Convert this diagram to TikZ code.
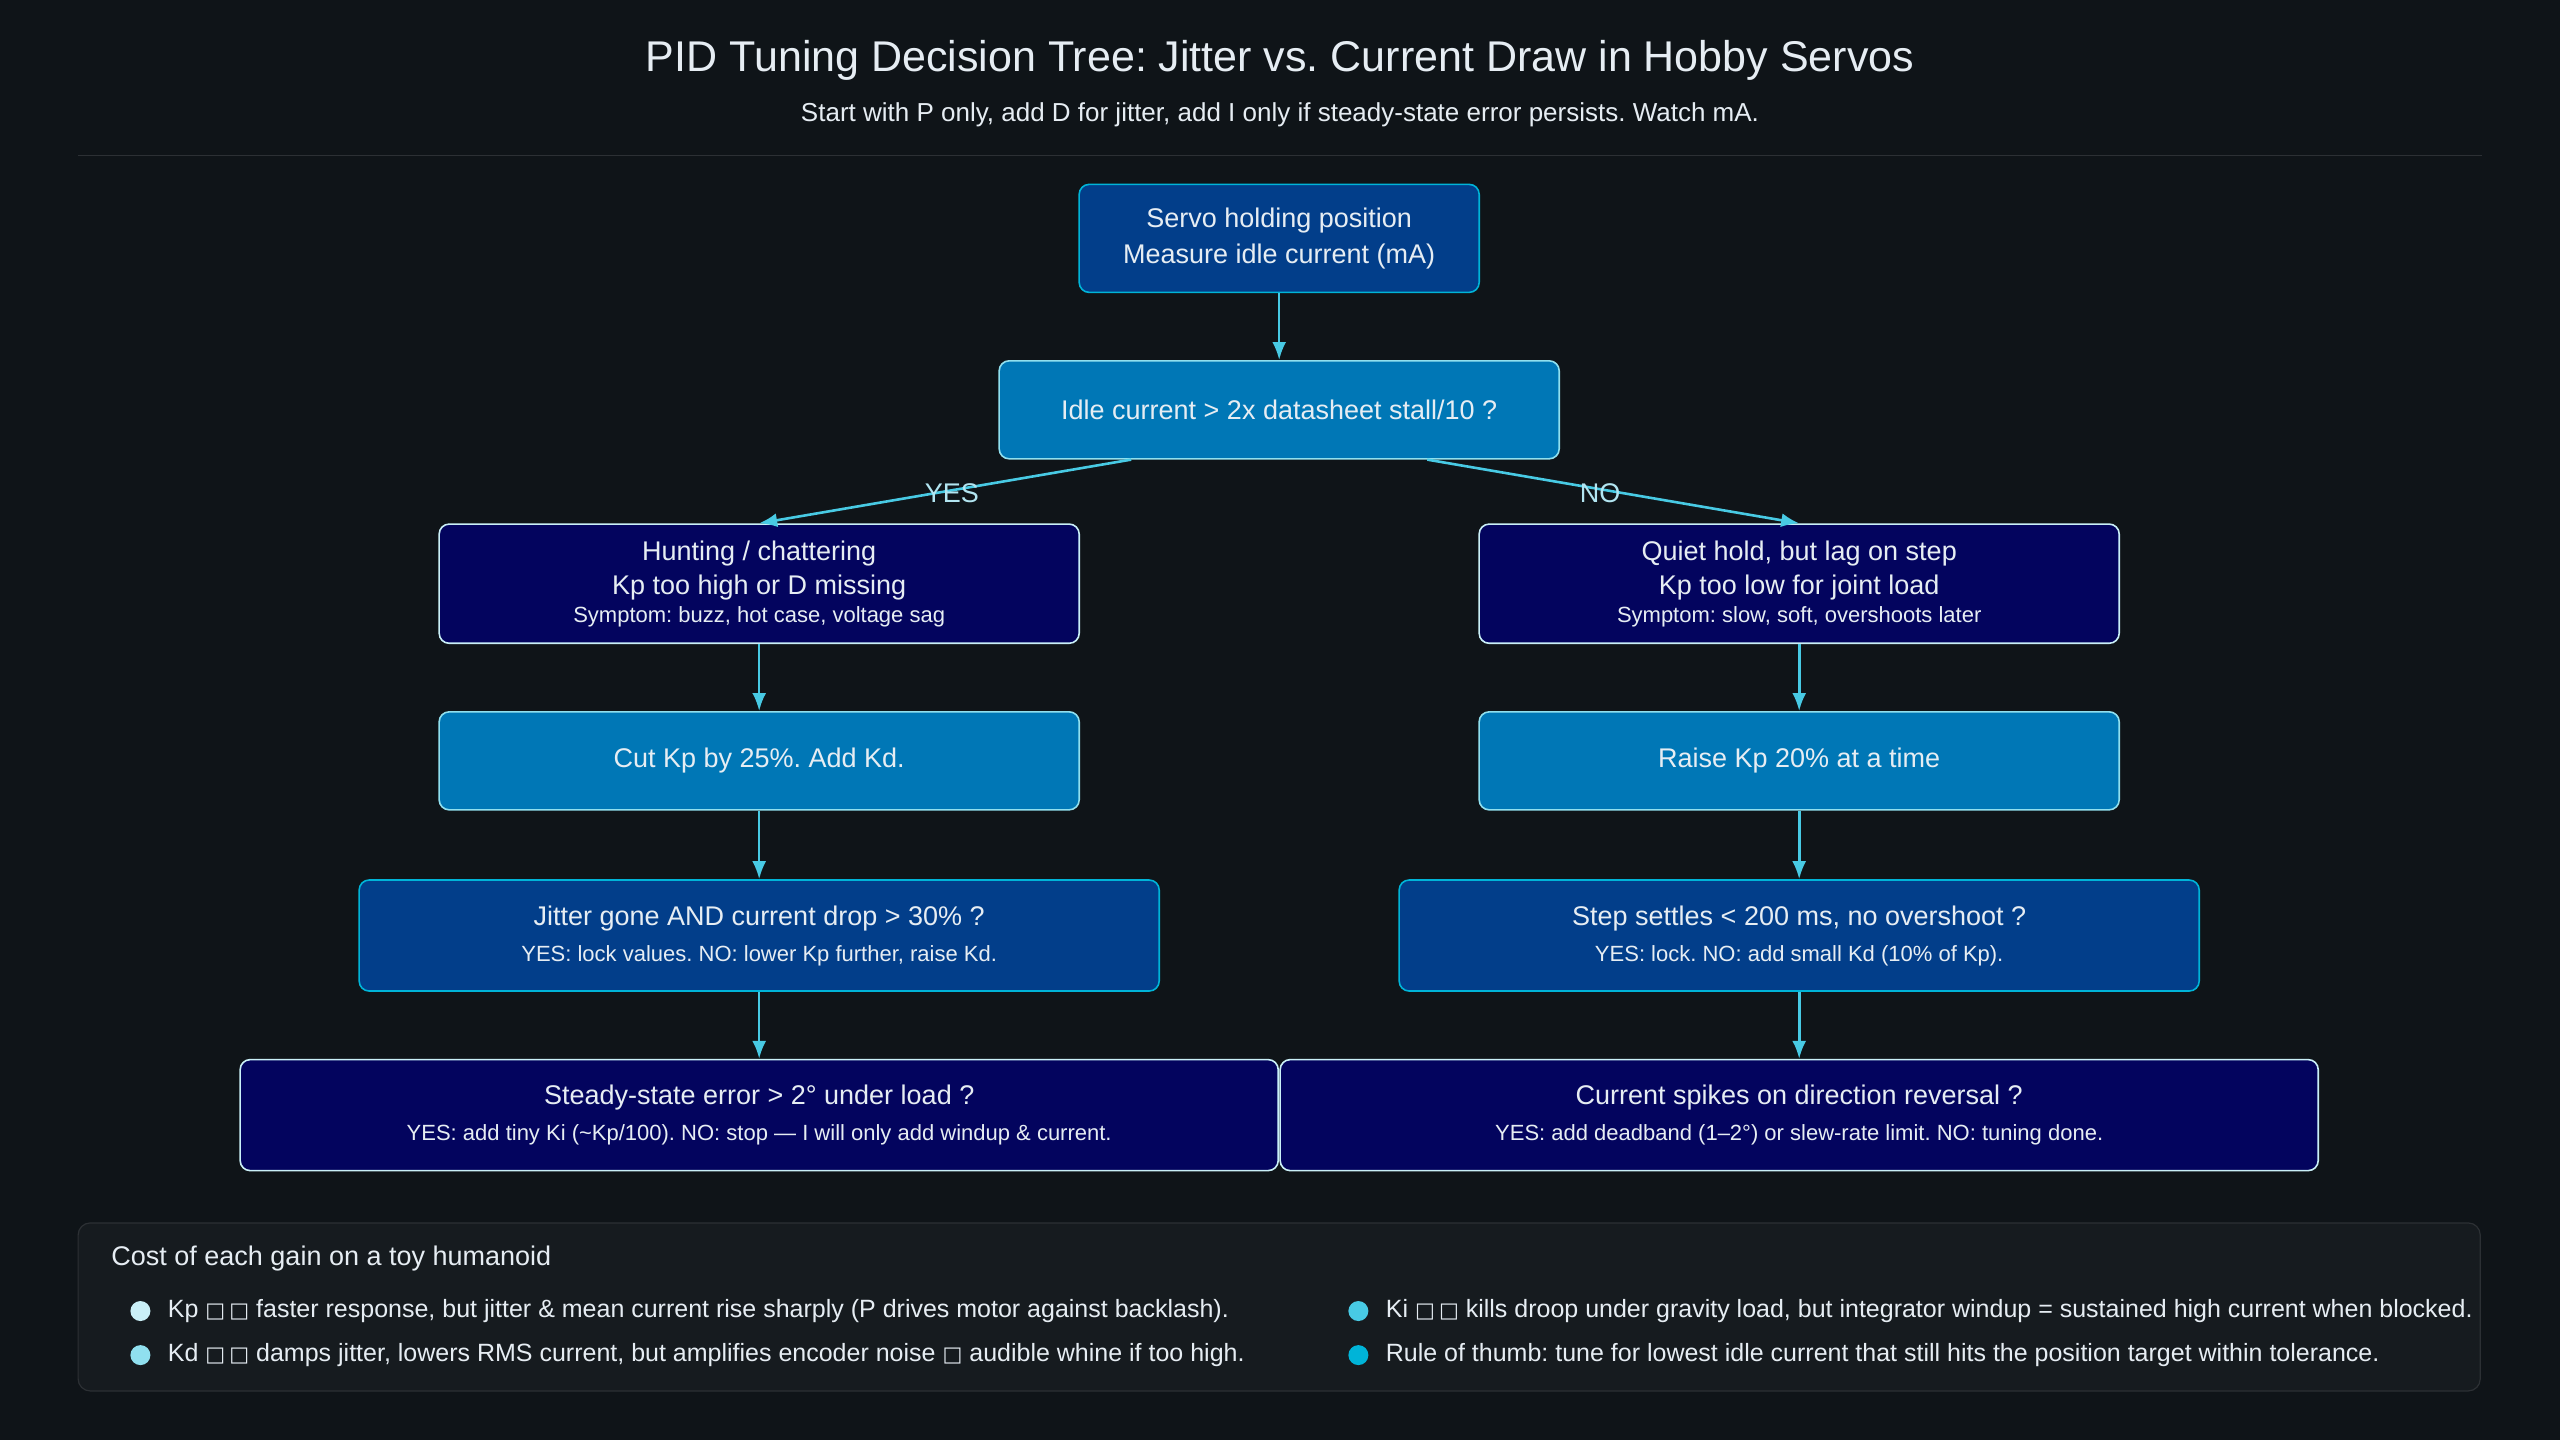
\documentclass[tikz,border=0pt]{standalone}
\usepackage{fontspec}
\setmainfont{Liberation Sans}
\newfontfamily\symfont{DejaVu Sans}
\usetikzlibrary{arrows.meta, positioning}
\definecolor{bgc}{HTML}{0F1418}
\definecolor{navy}{HTML}{03045E}
\definecolor{deep}{HTML}{023E8A}
\definecolor{mid}{HTML}{0077B6}
\definecolor{cyan}{HTML}{00B4D8}
\definecolor{sky}{HTML}{48CAE4}
\definecolor{pale}{HTML}{90E0EF}
\definecolor{ice}{HTML}{CAF0F8}
\definecolor{txt}{HTML}{E6EDF3}
\newcommand{\tofu}{{\symfont\fontsize{10.5}{10}\selectfont □}}
\frenchspacing

\begin{document}
\begin{tikzpicture}[x=0.8163pt,y=-0.8163pt,font=\fontsize{13.5}{16}\selectfont]
    \tikzset{box/.style={shape=rectangle,rounded corners=5pt,line width=0.8pt,align=center,text=txt,inner sep=0pt},
      start/.style={box,fill=deep,draw=cyan},
      ask/.style={box,fill=mid,draw=pale},
      warn/.style={box,fill=navy,draw=ice},
      check/.style={box,fill=deep,draw=cyan},
      flow/.style={-{Latex[length=9pt,width=7pt]},draw=sky,line width=1.3pt},
      dot/.style={circle,inner sep=0pt,minimum size=10pt}}

    \fill[bgc] (0,0) rectangle (1568,882);
    \node[text=txt,font=\fontsize{21.5}{26}\selectfont] (title) at (784,37) {PID Tuning Decision Tree: Jitter vs. Current Draw in Hobby Servos};
    \node[text=txt,font=\fontsize{13}{15}\selectfont] (sub) at (784,70) {Start with P only, add D for jitter, add I only if steady-state error persists. Watch mA.};
    \draw[draw=white!12!bgc,line width=0.6pt] (48,95) -- (1520,95);

    \node[start,minimum width=200pt,minimum height=54pt] (S) at (783.5,146) {Servo holding position\\[2pt]Measure idle current (mA)};
    \node[ask,minimum width=280pt,minimum height=49pt] (Q) at (783.5,251) {Idle current > 2x datasheet stall/10 ?};

    \node[warn,minimum width=320pt,minimum height=59.6pt] (L1) at (465,357.5) {Hunting / chattering\\[1pt]Kp too high or D missing\\[-2pt]{\fontsize{11}{12}\selectfont Symptom: buzz, hot case, voltage sag}};
    \node[warn,minimum width=320pt,minimum height=59.6pt] (R1) at (1102,357.5) {Quiet hold, but lag on step\\[1pt]Kp too low for joint load\\[-2pt]{\fontsize{11}{12}\selectfont Symptom: slow, soft, overshoots later}};

    \node[ask,minimum width=320pt,minimum height=49pt] (L2) at (465,466) {Cut Kp by 25\%. Add Kd.};
    \node[ask,minimum width=320pt,minimum height=49pt] (R2) at (1102,466) {Raise Kp 20\% at a time};

    \node[check,minimum width=400pt,minimum height=55.5pt] (L3) at (465,573) {Jitter gone AND current drop > 30\% ?\\[2pt]{\fontsize{11}{12}\selectfont YES: lock values. NO: lower Kp further, raise Kd.}};
    \node[check,minimum width=400pt,minimum height=55.5pt] (R3) at (1102,573) {Step settles < 200 ms, no overshoot ?\\[2pt]{\fontsize{11}{12}\selectfont YES: lock. NO: add small Kd (10\% of Kp).}};

    \node[warn,minimum width=519pt,minimum height=55.5pt] (L4) at (465,683) {Steady-state error > 2° under load ?\\[2pt]{\fontsize{11}{12}\selectfont YES: add tiny Ki (\textasciitilde Kp/100). NO: stop — I will only add windup \& current.}};
    \node[warn,minimum width=519pt,minimum height=55.5pt] (R4) at (1102,683) {Current spikes on direction reversal ?\\[2pt]{\fontsize{11}{12}\selectfont YES: add deadband (1–2°) or slew-rate limit. NO: tuning done.}};

    \coordinate (qy) at ([xshift=-74pt]Q.south);
    \coordinate (qn) at ([xshift=74pt]Q.south);
    \draw[flow] (S) -- (Q);
    \draw[flow] (qy) -- (L1.north);
    \draw[flow] (qn) -- (R1.north);
    \draw[flow] (L1) -- (L2);
    \draw[flow] (L2) -- (L3);
    \draw[flow] (L3) -- (L4);
    \draw[flow] (R1) -- (R2);
    \draw[flow] (R2) -- (R3);
    \draw[flow] (R3) -- (R4);
    \node[text=pale!60!txt] (yes) at (583,302) {YES};
    \node[text=pale!60!txt] (no) at (980,302) {NO};

    % legend
    \node[draw=white!12!bgc,fill=bgc!97!white,rounded corners=6pt,line width=0.6pt,minimum width=1201pt,minimum height=84pt,inner sep=0pt] (leg) at (783.5,800.5) {};
    \node[anchor=west,text=txt,inner sep=0pt] (legt) at (68,771) {Cost of each gain on a toy humanoid};
    \foreach \n/\c/\x/\y/\t in {
      a/ice/86/803/{Kp \tofu\,\tofu\ faster response, but jitter \& mean current rise sharply (P drives motor against backlash).},
      b/pale/86/830/{Kd \tofu\,\tofu\ damps jitter, lowers RMS current, but amplifies encoder noise \tofu\ audible whine if too high.},
      c/sky/832/803/{Ki \tofu\,\tofu\ kills droop under gravity load, but integrator windup = sustained high current when blocked.},
      d/cyan/832/830/{Rule of thumb: tune for lowest idle current that still hits the position target within tolerance.}}
    {
      \node[dot,fill=\c] (dot\n) at (\x,\y) {};
      \node[text=txt,font=\fontsize{12.5}{14}\selectfont,right=5pt of dot\n] (item\n) {\t};
    }
\end{tikzpicture}
\end{document}
